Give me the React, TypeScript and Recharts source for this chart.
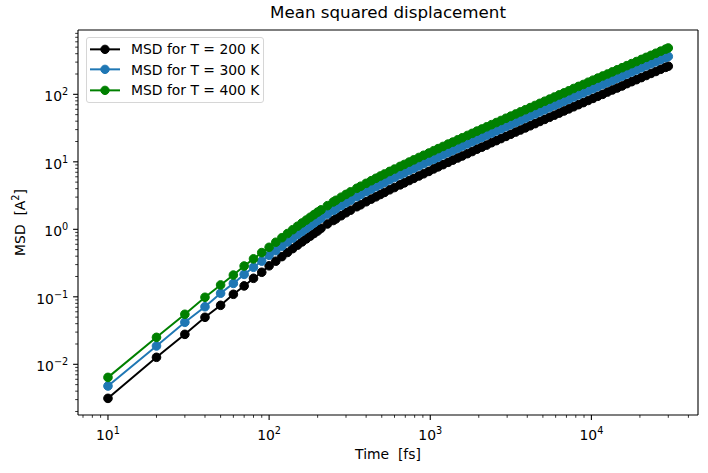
import { LineChart, Line, XAxis, YAxis, Legend, ReferenceLine } from "recharts";

// time in fs
const times = [
  10, 20, 30, 40, 50, 60, 70, 80, 90, 100,
  110, 120, 130, 140, 150, 160, 170, 180, 190, 200,
  210, 230, 250, 260, 280, 300, 320, 350, 370, 400, 430, 460, 490, 520, 560, 600, 650, 690, 740, 790, 850, 910, 980,
  1050, 1120, 1200, 1290, 1380, 1480, 1580, 1700, 1820, 1950, 2090, 2240, 2400, 2570, 2750, 2950, 3160, 3390, 3630, 3890,
  4170, 4470, 4790, 5130, 5500, 5890, 6310, 6760, 7240, 7760, 8320, 8910, 9550,
  10230, 10960, 11750, 12590, 13490, 14450, 15490, 16600, 17780, 19050, 20420, 21880, 23440, 25120, 26920, 28840, 30000,
];

// MSD in A^2
const msd200 = [
  0.00313, 0.0127, 0.0278, 0.0497, 0.0748, 0.109, 0.145, 0.188, 0.231, 0.288,
  0.337, 0.394, 0.454, 0.517, 0.583, 0.651, 0.721, 0.793, 0.868, 0.943,
  1.035, 1.2, 1.35, 1.43, 1.59, 1.76, 1.92, 2.16, 2.31, 2.56, 2.8, 3.03, 3.28, 3.52, 3.85, 4.16, 4.56, 4.88, 5.28, 5.68, 6.17, 6.65, 7.21,
  7.85, 8.43, 9.08, 9.82, 10.6, 11.4, 12.2, 13.2, 14.2, 15.4, 16.5, 17.7, 19.2, 20.6, 22.1, 23.8, 25.6, 27.6, 29.6, 31.8,
  34.2, 36.8, 39.6, 42.5, 45.7, 49.1, 52.7, 56.7, 60.9, 65.4, 70.3, 75.4, 81.1,
  87.0, 93.5, 100, 108, 116, 124, 133, 144, 154, 165, 177, 190, 204, 218, 235, 251, 261,
];

const msd300 = [
  0.00477, 0.0187, 0.0419, 0.0713, 0.113, 0.158, 0.215, 0.274, 0.338, 0.412,
  0.482, 0.563, 0.649, 0.739, 0.833, 0.93, 1.03, 1.13, 1.24, 1.35,
  1.46, 1.68, 1.9, 2.02, 2.24, 2.47, 2.69, 3.04, 3.26, 3.6, 3.94, 4.28, 4.62, 4.96, 5.41, 5.86, 6.42, 6.86, 7.43, 7.99, 8.69, 9.35, 10.2,
  10.9, 11.7, 12.7, 13.7, 14.7, 15.9, 17.1, 18.4, 19.8, 21.4, 23.0, 24.8, 26.6, 28.7, 30.8, 33.2, 35.6, 38.4, 41.2, 44.3,
  47.7, 51.3, 55.1, 59.2, 63.7, 68.4, 73.5, 78.9, 84.8, 91.1, 97.9, 105, 113,
  121, 130, 140, 150, 161, 173, 186, 200, 214, 230, 247, 265, 284, 304, 327, 350, 364,
];

const msd400 = [
  0.0064, 0.0251, 0.0551, 0.0984, 0.15, 0.21, 0.286, 0.365, 0.452, 0.541,
  0.643, 0.751, 0.866, 0.986, 1.11, 1.24, 1.37, 1.51, 1.65, 1.8,
  1.94, 2.24, 2.54, 2.69, 2.99, 3.29, 3.59, 4.05, 4.35, 4.8, 5.25, 5.7, 6.16, 6.61, 7.21, 7.81, 8.56, 9.15, 9.91, 10.7, 11.6, 12.5, 13.5,
  14.6, 15.7, 16.9, 18.3, 19.6, 21.2, 22.7, 24.6, 26.4, 28.5, 30.7, 33.0, 35.5, 38.2, 41.0, 44.2, 47.5, 51.2, 55.0, 59.1,
  63.6, 68.4, 73.5, 79.0, 84.9, 91.2, 98.0, 105, 113, 122, 131, 140, 151,
  162, 174, 187, 200, 215, 231, 248, 266, 285, 306, 329, 353, 378, 406, 436, 467, 486,
];

const seriesNames = ["MSD for T = 200 K", "MSD for T = 300 K", "MSD for T = 400 K"];
const seriesColors = ["#000000", "#1f77b4", "#008000"];

const xTicks = [
  7, 8, 9, 10, 20, 30, 40, 50, 60, 70, 80, 90, 100, 200, 300, 400, 500, 600, 700, 800, 900,
  1000, 2000, 3000, 4000, 5000, 6000, 7000, 8000, 9000, 10000, 20000, 30000, 40000,
];
const yTicks = [
  0.002, 0.003, 0.004, 0.005, 0.006, 0.007, 0.008, 0.009,
  0.01, 0.02, 0.03, 0.04, 0.05, 0.06, 0.07, 0.08, 0.09,
  0.1, 0.2, 0.3, 0.4, 0.5, 0.6, 0.7, 0.8, 0.9,
  1, 2, 3, 4, 5, 6, 7, 8, 9,
  10, 20, 30, 40, 50, 60, 70, 80, 90,
  100, 200, 300, 400, 500, 600, 700, 800,
];

const xDomain = [6.516, 45870];
const yDomain = [0.001774, 897.5];

const data = times.map((t, i) => ({
  t,
  k200: msd200[i],
  k300: msd300[i],
  k400: msd400[i],
}));

const FONT = "DejaVu Sans";

function decade(v: number) {
  const e = Math.log10(v);
  return Math.abs(e - Math.round(e)) < 1e-6 ? Math.round(e) : null;
}

function expText(e: number) {
  return e < 0 ? "\u2212" + Math.abs(e) : String(e);
}

function XTick({ x, y, payload }: any) {
  const e = decade(payload.value);
  const major = e !== null;
  return (
    <g>
      <line x1={x} x2={x} y1={y} y2={y + (major ? 4.9 : 2.8)} stroke="#000" strokeWidth={major ? 1.1 : 0.8} />
      {major && (
        <text x={x} y={y + 25} textAnchor="middle" fontFamily={FONT} fontSize={13.9} fill="#000">
          10
          <tspan dy={-6} fontSize={9.7}>
            {expText(e as number)}
          </tspan>
        </text>
      )}
    </g>
  );
}

function YTick({ x, y, payload }: any) {
  const e = decade(payload.value);
  const major = e !== null;
  return (
    <g>
      <line x1={x - (major ? 4.9 : 2.8)} x2={x} y1={y} y2={y} stroke="#000" strokeWidth={major ? 1.1 : 0.8} />
      {major && (
        <text x={x - 9.8} y={y + 7} textAnchor="end" fontFamily={FONT} fontSize={13.9} fill="#000">
          10
          <tspan dy={-6} fontSize={9.7}>
            {expText(e as number)}
          </tspan>
        </text>
      )}
    </g>
  );
}

function XLabel() {
  return (
    <text x={388} y={459} textAnchor="middle" fontFamily={FONT} fontSize={13.9} fill="#000" style={{ whiteSpace: "pre" }}>
      Time  [fs]
    </text>
  );
}

function YLabel() {
  return (
    <text
      x={25}
      y={222.5}
      transform="rotate(-90 25 222.5)"
      textAnchor="middle"
      fontFamily={FONT}
      fontSize={13.9}
      fill="#000"
      style={{ whiteSpace: "pre" }}
    >
      MSD  [A
      <tspan dy={-6} fontSize={9.7}>
        2
      </tspan>
      <tspan dy={6}>]</tspan>
    </text>
  );
}

function LegendBox({ payload }: any) {
  return (
    <div
      style={{
        position: "relative",
        width: 178,
        height: 66,
        boxSizing: "border-box",
        border: "1px solid #d6d6d6",
        borderRadius: 3,
        background: "rgba(255,255,255,0.8)",
        fontFamily: FONT,
        fontSize: 13.9,
        color: "#000",
      }}
    >
      {(payload || []).map((p: any, i: number) => (
        <div
          key={i}
          style={{ position: "absolute", left: 0, top: 0.5 + i * 20.7, height: 20.7, display: "flex", alignItems: "center" }}
        >
          <svg width={44} height={20.7}>
            <line x1={3} x2={33} y1={10.35} y2={10.35} stroke={p.color} strokeWidth={2} />
            <circle cx={18} cy={10.35} r={4.2} fill={p.color} stroke={p.color} strokeWidth={1} />
          </svg>
          <span style={{ whiteSpace: "nowrap" }}>{p.value}</span>
        </div>
      ))}
    </div>
  );
}

export default function App() {
  const keys = ["k200", "k300", "k400"];
  return (
    <div style={{ position: "absolute", left: 0, top: 0, width: 708, height: 473, background: "#fff" }}>
      <div
        style={{
          position: "absolute",
          left: 78,
          top: 2,
          width: 620,
          lineHeight: "20px",
          textAlign: "center",
          fontFamily: FONT,
          fontSize: 16.7,
          color: "#000",
        }}
      >
        Mean squared displacement
      </div>
      <LineChart width={708} height={473} data={data} margin={{ top: 30, right: 10, bottom: 0, left: 0 }}>
        <XAxis
          dataKey="t"
          type="number"
          scale="log"
          domain={xDomain}
          allowDataOverflow
          ticks={xTicks}
          interval={0}
          tickSize={0}
          tickMargin={0}
          tick={<XTick />}
          height={58}
          axisLine={{ stroke: "#000", strokeWidth: 1.1 }}
          label={<XLabel />}
        />
        <YAxis
          type="number"
          scale="log"
          domain={yDomain}
          allowDataOverflow
          ticks={yTicks}
          interval={0}
          tickSize={0}
          tickMargin={0}
          tick={<YTick />}
          width={78}
          axisLine={{ stroke: "#000", strokeWidth: 1.1 }}
          label={<YLabel />}
        />
        <ReferenceLine y={yDomain[1]} stroke="#000" strokeWidth={1.1} />
        <ReferenceLine x={xDomain[1]} stroke="#000" strokeWidth={1.1} />
        {keys.map((k, i) => (
          <Line
            key={k}
            dataKey={k}
            name={seriesNames[i]}
            type="linear"
            stroke={seriesColors[i]}
            strokeWidth={2}
            dot={{ r: 4.3, fill: seriesColors[i], stroke: seriesColors[i], strokeWidth: 1 }}
            activeDot={false}
            isAnimationActive={false}
          />
        ))}
        <Legend
          layout="horizontal"
          verticalAlign="middle"
          align="center"
          wrapperStyle={{ left: 86, top: 37, width: "auto" }}
          content={<LegendBox />}
        />
      </LineChart>
    </div>
  );
}
